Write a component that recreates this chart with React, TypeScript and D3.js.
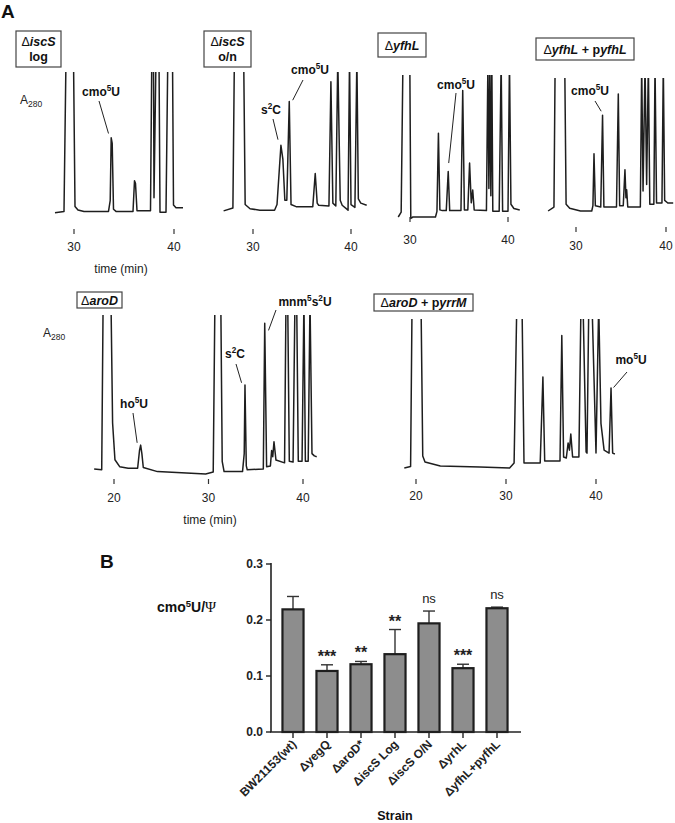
import React from 'react';
import * as d3 from 'd3';

type Pt = [number, number];

// HPLC traces: [time (min), A280 in panel units, 100 = top of panel, >100 is off scale]
const traceIscSLog: Pt[] = [
  [28.1, 1.5], [29.0, 2.5], [29.2, 110], [29.95, 110], [30.1, 6], [30.4, 3.5], [31.0, 2.5],
  [33.45, 2.5], [33.62, 10], [33.72, 54], [33.82, 50], [33.95, 4], [34.2, 2.5], [35.9, 2.5],
  [36.05, 24], [36.15, 22], [36.3, 3], [37.65, 3], [37.78, 110], [37.95, 110], [38.0, 12],
  [38.2, 110], [38.5, 110], [38.6, 2], [39.2, 2], [39.38, 110], [39.85, 110], [39.95, 7],
  [40.2, 5], [40.9, 5],
];
const traceIscSON: Pt[] = [
  [27.0, 1.5], [27.95, 3.5], [28.1, 110], [29.05, 110], [29.2, 6], [29.7, 3], [30.7, 2],
  [32.2, 2], [32.45, 6], [32.85, 48], [33.05, 38], [33.25, 9], [33.45, 9], [33.7, 79],
  [33.88, 6], [34.4, 4.5], [36.1, 4.5], [36.35, 28], [36.55, 7], [36.7, 5.5], [37.75, 5],
  [37.95, 93], [38.15, 7], [38.45, 5], [38.65, 110], [38.9, 9], [39.1, 5.5], [39.7, 2],
  [39.85, 110], [40.0, 6], [40.4, 4], [40.6, 110], [40.75, 10], [41.0, 7], [41.6, 5.5],
];
const traceYfhL: Pt[] = [
  [28.8, 0], [29.1, 3.5], [29.28, 110], [29.98, 110], [30.08, -1], [30.3, 0], [32.6, 0],
  [32.75, 4], [32.9, 59], [33.05, 5], [33.3, 4.5], [33.7, 4.5], [33.9, 32], [34.05, 4.5],
  [35.2, 4.5], [35.38, 89], [35.55, 5], [35.9, 5], [36.08, 38], [36.25, 10], [36.4, 19],
  [36.55, 5], [37.8, 4.5], [37.95, 110], [38.05, 20], [38.15, 110], [38.25, 15], [38.35, 110],
  [38.45, 4], [39.1, 4], [39.3, 110], [39.45, 4], [40.0, 4], [40.15, 110], [40.3, 9],
  [40.6, 6], [41.2, 5],
];
const traceYfhLComp: Pt[] = [
  [26.9, 0], [27.55, 3], [27.68, 110], [28.75, 110], [28.9, 5], [29.3, 2], [30.5, 0],
  [31.75, 0], [31.88, 4], [32.0, 43], [32.15, 4], [32.75, 3], [32.95, 72], [33.1, 3],
  [34.5, 3], [34.7, 88], [34.85, 4], [35.25, 4], [35.44, 31], [35.55, 10], [35.63, 16],
  [35.75, 3], [37.15, 3], [37.3, 110], [37.45, 15], [37.67, 110], [37.85, 20], [38.04, 110],
  [38.2, 5], [38.65, 5], [38.78, 110], [38.95, 6], [39.55, 6], [39.7, 110], [39.85, 8],
  [40.2, 6], [40.8, 6],
];
const traceAroD: Pt[] = [
  [17.9, 0], [18.7, -0.5], [18.85, 110], [19.68, 110], [19.85, 30], [20.1, 6], [20.6, 1.5],
  [21.5, 0.5], [22.5, 0.5], [22.7, 12], [22.82, 15.5], [22.95, 10], [23.1, 1], [24.6, -1.7],
  [29.7, -3.2], [30.5, -2], [30.68, 110], [31.3, 110], [31.45, 5], [31.65, -1.7], [33.6, -1.7],
  [33.78, 10], [33.86, 54.5], [34.0, 2], [34.1, -0.5], [35.8, 0], [35.95, 94.6], [36.15, 1.5],
  [36.55, 2], [36.68, 12], [36.8, 8], [36.93, 17.7], [37.14, 5.8], [38.05, 4], [38.2, 110],
  [38.38, 110], [38.55, 5], [38.95, 4.5], [39.15, 110], [39.33, 110], [39.5, 5], [39.9, 5],
  [40.1, 110], [40.25, 5], [40.55, 5], [40.74, 110], [40.95, 10], [41.2, 8.5], [41.45, 8],
];
const traceAroDYrrM: Pt[] = [
  [18.7, 0], [19.4, 1], [19.56, 110], [20.56, 110], [20.75, 8], [21.0, 4], [22.7, 1.3],
  [27.1, 0.7], [30.4, 0], [30.9, 3.4], [31.2, 110], [31.78, 110], [32.0, 3.4], [33.8, 3.4],
  [34.1, 61], [34.3, 4.7], [36.0, 4.7], [36.2, 89], [36.4, 7.4], [36.7, 6.7], [36.9, 16.8],
  [37.05, 12], [37.2, 22.8], [37.4, 7.4], [38.1, 7.4], [38.33, 110], [38.56, 110], [38.9, 10.7],
  [39.0, 10], [39.2, 110], [39.56, 110], [40.0, 10], [40.3, 110], [40.55, 30], [40.9, 12],
  [41.45, 10], [41.67, 53.7], [41.85, 10], [42.1, 9.4],
];

const topTicks = [30, 40];
const bottomTicks = [20, 30, 40];

// panel B
const strains = ['BW21153(wt)', 'ΔyegQ', 'ΔaroD*', 'ΔiscS Log', 'ΔiscS O/N', 'ΔyrhL', 'ΔyfhL+pyfhL'];
const ratioMean = [0.219, 0.109, 0.121, 0.139, 0.194, 0.114, 0.221];
const ratioErr = [0.023, 0.011, 0.005, 0.044, 0.022, 0.007, 0.002];
const significance = ['', '***', '**', '**', 'ns', '***', 'ns'];
const ratioTicks = [0, 0.1, 0.2, 0.3];

const FONT = "'Liberation Sans', Arial, Helvetica, sans-serif";
const INK = '#1e1e1e';

// text runs: d = delta, i = bold italic, b = bold
type Run = [string, 'd' | 'i' | 'b'];

const panels = [
  {
    trace: traceIscSLog, domain: [30, 40], range: [74, 174], base: 215, top: 72,
    ticks: topTicks, tickY: 229, labelY: 251,
    box: { x: 16, y: 31, w: 45, h: 36, lines: [[['Δ', 'd'], ['iscS', 'i']], [['log', 'b']]] as Run[][] },
    notes: [{ text: ['cmo', '5', 'U'], lx: 101, ly: 96, sx: 99, sy: 101, t: 33.45, v: 57 }],
  },
  {
    trace: traceIscSON, domain: [30, 40], range: [253, 351], base: 213, top: 72,
    ticks: topTicks, tickY: 229, labelY: 251,
    box: { x: 204, y: 31, w: 47, h: 36, lines: [[['Δ', 'd'], ['iscS', 'i']], [['o/n', 'b']]] as Run[][] },
    notes: [
      { text: ['s', '2', 'C'], lx: 271, ly: 114, sx: 273, sy: 119, t: 32.55, v: 52 },
      { text: ['cmo', '5', 'U'], lx: 310, ly: 74, sx: 303, sy: 80, t: 34.05, v: 80 },
    ],
  },
  {
    trace: traceYfhL, domain: [30, 40], range: [410, 508], base: 217, top: 75,
    ticks: topTicks, tickY: 217, labelY: 244,
    box: { x: 378, y: 33, w: 48, h: 24, lines: [[['Δ', 'd'], ['yfhL', 'i']]] as Run[][] },
    notes: [{ text: ['cmo', '5', 'U'], lx: 456, ly: 89, sx: 456, sy: 93, t: 33.95, v: 38 }],
  },
  {
    trace: traceYfhLComp, domain: [30, 40], range: [576, 666], base: 211, top: 78,
    ticks: topTicks, tickY: 227, labelY: 250,
    box: {
      x: 536, y: 38, w: 98, h: 22,
      lines: [[['Δ', 'd'], ['yfhL', 'i'], [' + p', 'b'], ['yfhL', 'i']]] as Run[][],
    },
    notes: [{ text: ['cmo', '5', 'U'], lx: 590, ly: 95, sx: 595, sy: 101, t: 32.8, v: 75 }],
  },
  {
    trace: traceAroD, domain: [20, 40], range: [114, 303], base: 469, top: 315,
    ticks: bottomTicks, tickY: 479, labelY: 502,
    box: { x: 77, y: 292, w: 45, h: 16, lines: [[['Δ', 'd'], ['aroD', 'i']]] as Run[][] },
    notes: [
      { text: ['ho', '5', 'U'], lx: 134, ly: 408, sx: 133, sy: 413, t: 22.45, v: 17 },
      { text: ['s', '2', 'C'], lx: 235, ly: 358, sx: 236, sy: 364, t: 33.5, v: 56 },
      { text: ['mnm', '5', 's', '2', 'U'], lx: 305, ly: 306, sx: 276, sy: 310, t: 36.35, v: 90 },
    ],
  },
  {
    trace: traceAroDYrrM, domain: [20, 40], range: [416, 596], base: 468, top: 319,
    ticks: bottomTicks, tickY: 479, labelY: 500,
    box: {
      x: 374, y: 294, w: 99, h: 17,
      lines: [[['Δ', 'd'], ['aroD', 'i'], [' + p', 'b'], ['yrrM', 'i']]] as Run[][],
    },
    notes: [{ text: ['mo', '5', 'U'], lx: 631, ly: 364, sx: 627, sy: 372, t: 41.95, v: 54 }],
  },
];

const runStyle = (k: string) =>
  k === 'd'
    ? { fontWeight: 400 }
    : k === 'i'
    ? { fontWeight: 700, fontStyle: 'italic' as const }
    : { fontWeight: 700 };

// alternate normal / superscript parts: ['cmo','5','U'] -> cmo⁵U
const Sup = ({ parts, size }: { parts: string[]; size: number }) => (
  <>
    {parts.map((p, i) =>
      i % 2 === 1 ? (
        <tspan key={i} fontSize={size * 0.68} dy={-size * 0.38}>{p}</tspan>
      ) : (
        <tspan key={i} dy={i === 0 ? 0 : size * 0.38}>{p}</tspan>
      )
    )}
  </>
);

const Chromatogram = ({ p, idx }: { p: (typeof panels)[number]; idx: number }) => {
  const x = d3.scaleLinear().domain(p.domain).range(p.range);
  const y = d3.scaleLinear().domain([0, 100]).range([p.base, p.top]);
  const line = d3.line<Pt>().x((d) => x(d[0])).y((d) => y(d[1]));
  const b = p.box;
  const lh = b.lines.length > 1 ? 15 : 0;
  return (
    <g>
      <clipPath id={`clip${idx}`}>
        <rect x={0} y={p.top} width={675} height={400} />
      </clipPath>
      <path d={line(p.trace) ?? ''} fill="none" stroke={INK} strokeWidth={1.5}
        strokeLinejoin="round" clipPath={`url(#clip${idx})`} />
      {p.ticks.map((t) => (
        <g key={t}>
          <line x1={x(t)} x2={x(t)} y1={p.tickY} y2={p.tickY + 5} stroke="#333" strokeWidth={1.2} />
          <text x={x(t)} y={p.labelY} textAnchor="middle" fontSize={12} fill="#222">{t}</text>
        </g>
      ))}
      <rect x={b.x} y={b.y} width={b.w} height={b.h} fill="white" stroke="#444" strokeWidth={1.2} />
      {b.lines.map((ln, i) => (
        <text key={i} x={b.x + b.w / 2} textAnchor="middle" fontSize={12.5} fill="#111"
          y={b.y + b.h / 2 + 4.5 - (b.lines.length - 1) * lh / 2 + i * lh}>
          {ln.map(([s, k], j) => (
            <tspan key={j} style={runStyle(k)}>{s}</tspan>
          ))}
        </text>
      ))}
      {p.notes.map((n, i) => (
        <g key={i}>
          <text x={n.lx} y={n.ly} textAnchor="middle" fontSize={12} fontWeight={700} fill="#111">
            <Sup parts={n.text} size={12} />
          </text>
          <line x1={n.sx} y1={n.sy} x2={x(n.t)} y2={y(n.v)} stroke="#222" strokeWidth={1} />
        </g>
      ))}
    </g>
  );
};

const A280 = ({ x, y }: { x: number; y: number }) => (
  <text x={x} y={y} fontSize={12} fill="#222">
    A<tspan fontSize={8.5} dy={3}>280</tspan>
  </text>
);

const BarChart = () => {
  const x = d3.scaleBand<string>().domain(strains).range([276, 514]).paddingInner(0.38).paddingOuter(0.19);
  const y = d3.scaleLinear().domain([0, 0.3]).range([732, 564]);
  const bw = x.bandwidth();
  return (
    <g>
      <text x={100} y={568} fontSize={19} fontWeight={700} fill="#111">B</text>
      <text x={157} y={612} fontSize={14} fontWeight={700} fill="#111">
        cmo<tspan fontSize={9.5} dy={-5}>5</tspan>
        <tspan dy={5}>U/</tspan>
        <tspan fontFamily="'Liberation Serif', 'Times New Roman', serif" fontWeight={400} fontSize={15}>Ψ</tspan>
      </text>
      {strains.map((s, i) => {
        const cx = (x(s) ?? 0) + bw / 2;
        const yTop = y(ratioMean[i]);
        const yErr = y(ratioMean[i] + ratioErr[i]);
        const sig = significance[i];
        return (
          <g key={s}>
            <line x1={cx} x2={cx} y1={yTop} y2={yErr} stroke="#333" strokeWidth={1.4} />
            <line x1={cx - 6} x2={cx + 6} y1={yErr} y2={yErr} stroke="#333" strokeWidth={1.4} />
            <rect x={x(s)} y={yTop} width={bw} height={y(0) - yTop} fill="#8d8d8d" stroke="#1e1e1e" strokeWidth={2.2} />
            {sig && (
              <text x={cx} y={sig === 'ns' ? yErr - 8 : yErr - 3} textAnchor="middle"
                fontSize={sig === 'ns' ? 13 : 16} fontWeight={sig === 'ns' ? 400 : 700} fill="#222">
                {sig}
              </text>
            )}
            <line x1={cx} x2={cx} y1={732} y2={738} stroke="#222" strokeWidth={1.4} />
            <text transform={`translate(${cx + 4},${745}) rotate(-45)`} textAnchor="end"
              fontSize={12} fontWeight={700} fill="#222">{s}</text>
          </g>
        );
      })}
      <line x1={271} x2={271} y1={563} y2={732} stroke="#222" strokeWidth={1.6} />
      <line x1={270} x2={521} y1={732} y2={732} stroke="#222" strokeWidth={1.6} />
      {ratioTicks.map((t) => (
        <g key={t}>
          <line x1={266} x2={271} y1={y(t)} y2={y(t)} stroke="#222" strokeWidth={1.4} />
          <text x={263} y={y(t) + 4} textAnchor="end" fontSize={12} fontWeight={700} fill="#222">
            {t.toFixed(1)}
          </text>
        </g>
      ))}
      <text x={395} y={820} textAnchor="middle" fontSize={12.5} fontWeight={700} fill="#111">Strain</text>
    </g>
  );
};

export default function App() {
  return (
    <svg width={675} height={823} style={{ position: 'absolute', left: 0, top: 0, background: 'white' }}
      fontFamily={FONT}>
      <rect width={675} height={823} fill="white" />
      <text x={1} y={18} fontSize={19} fontWeight={700} fill="#111">A</text>
      <A280 x={20} y={104} />
      <A280 x={43} y={337} />
      {panels.map((p, i) => (
        <Chromatogram key={i} p={p} idx={i} />
      ))}
      <text x={121} y={273} textAnchor="middle" fontSize={12} fill="#222">time (min)</text>
      <text x={210} y={524} textAnchor="middle" fontSize={12} fill="#222">time (min)</text>
      <BarChart />
    </svg>
  );
}
